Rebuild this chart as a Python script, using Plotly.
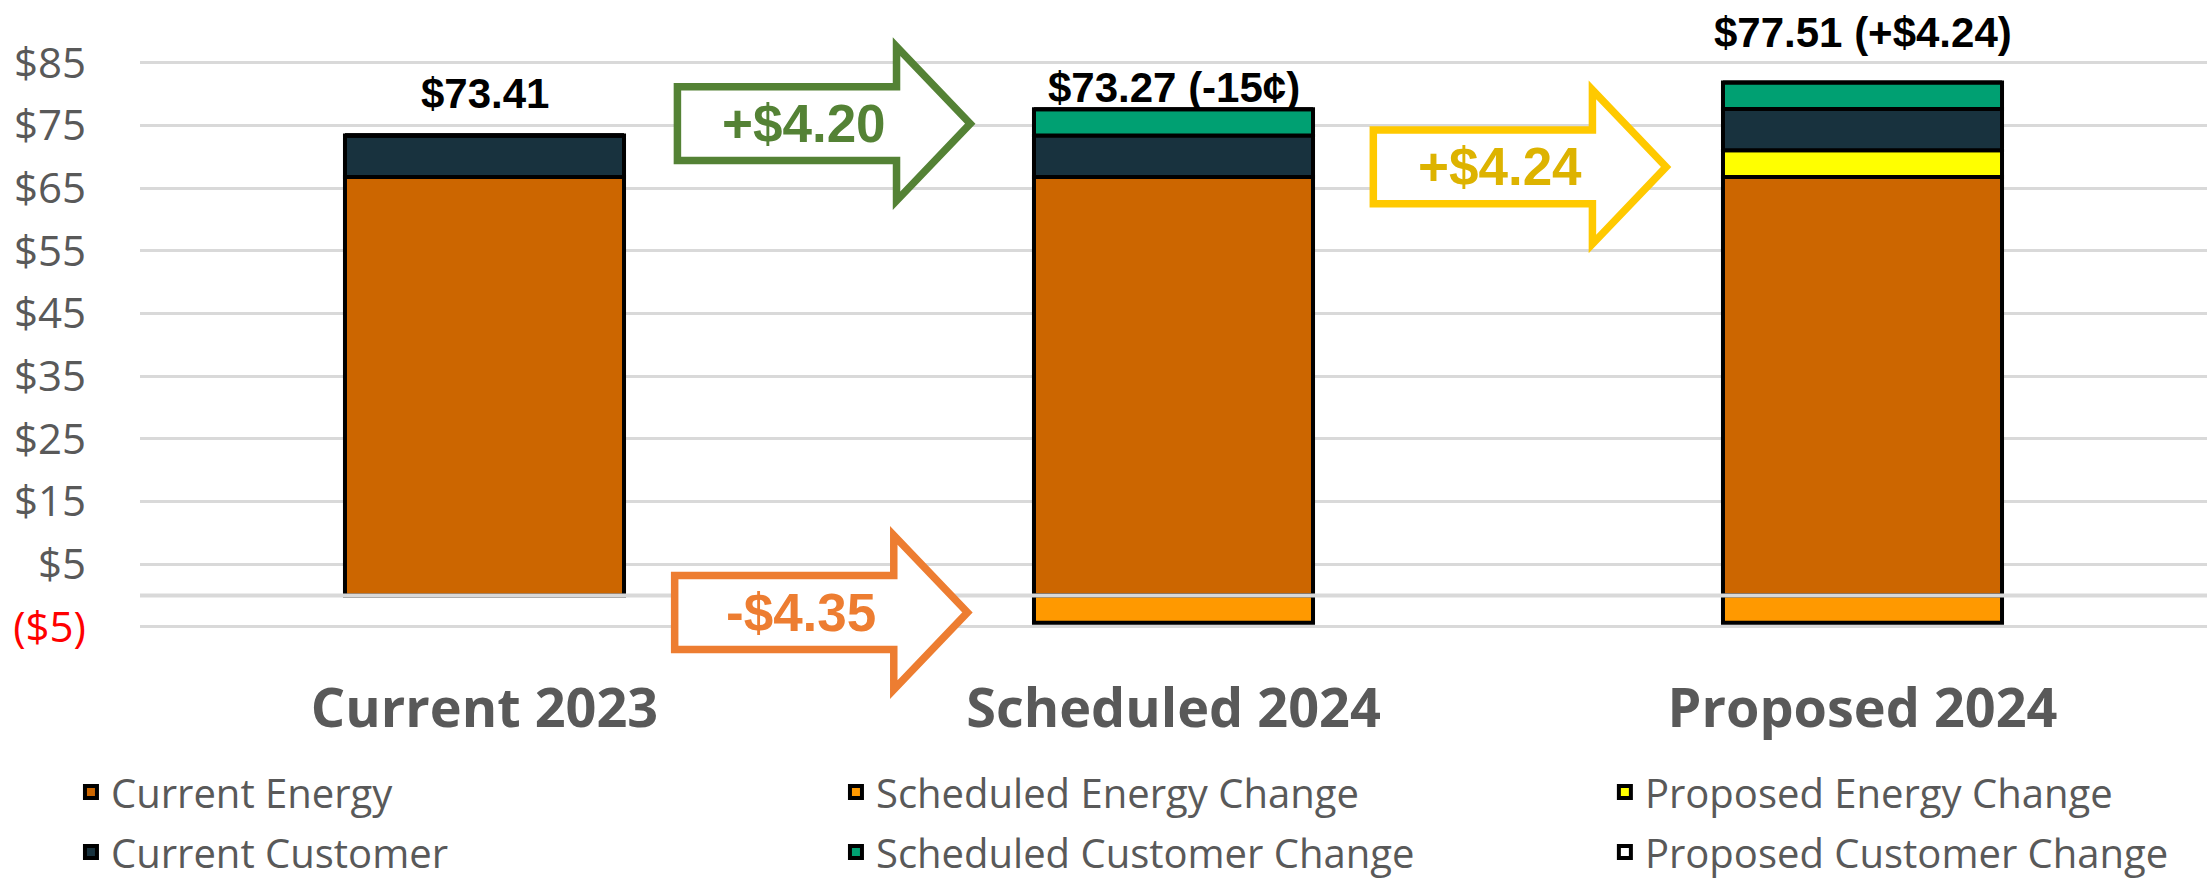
import plotly.graph_objects as go

# ---------------- data ----------------
categories = ["Current 2023", "Scheduled 2024", "Proposed 2024"]
current_energy = [66.80, 66.80, 66.80]
current_customer = [6.61, 6.61, 6.61]
scheduled_energy_change = [0, -4.35, -4.35]
scheduled_customer_change = [0, 4.20, 4.20]
proposed_energy_change = [0, 0, 4.24]
proposed_customer_change = [0, 0, 0]

total_labels = ["$73.41", "$73.27 (-15¢)", "$77.51 (+$4.24)"]
total_label_shift_px = [42, 22, 50]

y_tick_vals = [-5, 5, 15, 25, 35, 45, 55, 65, 75, 85]
y_tick_text = ["<span style='color:#FF0000'>($5)</span>", "$5", "$15", "$25", "$35",
               "$45", "$55", "$65", "$75", "$85"]

arrow_labels = ["+$4.20", "-$4.35", "+$4.24"]
arrow_x_start = [0.280, 0.276, 1.290]
arrow_y_center = [75.3, -2.7, 68.4]
arrow_line_colors = ["#548235", "#ED7D31", "#FFC900"]
arrow_text_colors = ["#548235", "#ED7D31", "#DDB300"]

# ---------------- style ----------------
x_pos = list(range(len(categories)))
X_RANGE = [-0.5, 2.5]
Y_RANGE = [-5.5, 92]
BAR_W = 0.405
LINE = dict(color="#000000", width=4)

series = [
    # name, values, color, legend, rank
    ("Current Energy", current_energy, "#CC6600", "legend", 1),
    ("Proposed Energy Change", proposed_energy_change, "#FFFF00", "legend3", 1),
    ("Current Customer", current_customer, "#18323E", "legend", 2),
    ("Scheduled Customer Change", scheduled_customer_change, "#00A072", "legend2", 2),
    ("Proposed Customer Change", proposed_customer_change, "#FFFFFF", "legend3", 2),
    ("Scheduled Energy Change", scheduled_energy_change, "#FF9900", "legend2", 1),
]

fig = go.Figure()
for name, vals, color, leg, rank in series:
    fig.add_trace(go.Bar(
        x=x_pos, y=vals, name=name, width=BAR_W,
        marker=dict(color=color, line=LINE),
        legend=leg, legendrank=rank, legendgroup=name,
    ))

# zero line drawn over the bars
fig.add_shape(type="line", xref="paper", yref="y", x0=0, x1=1, y0=0, y1=0,
              line=dict(color="#D9D9D9", width=4), layer="above")


def px_(x):  # data x -> paper
    return (x - X_RANGE[0]) / (X_RANGE[1] - X_RANGE[0])


def py_(y):  # data y -> paper
    return (y - Y_RANGE[0]) / (Y_RANGE[1] - Y_RANGE[0])


# block arrows (paper coordinates so they are not clipped by the plot area)
BODY_HALF = 5.9
HEAD_HALF = 12.3
BODY_LEN = 0.318
HEAD_LEN = 0.107
for lab, xs, yc, lc, tc in zip(arrow_labels, arrow_x_start, arrow_y_center,
                               arrow_line_colors, arrow_text_colors):
    x1 = xs + BODY_LEN
    x2 = x1 + HEAD_LEN
    pts = [(xs, yc - BODY_HALF), (x1, yc - BODY_HALF), (x1, yc - HEAD_HALF), (x2, yc),
           (x1, yc + HEAD_HALF), (x1, yc + BODY_HALF), (xs, yc + BODY_HALF)]
    path = "M" + " L".join(f"{px_(a):.5f},{py_(b):.5f}" for a, b in pts) + " Z"
    fig.add_shape(type="path", path=path, xref="paper", yref="paper",
                  line=dict(color=lc, width=7.5), fillcolor="#FFFFFF", layer="above")
    fig.add_annotation(x=px_(xs + BODY_LEN / 2 + 0.025), y=py_(yc),
                       xref="paper", yref="paper", xanchor="center", yanchor="middle",
                       text=lab, showarrow=False,
                       font=dict(family="Liberation Sans, Arial", size=53, color=tc,
                                 weight="bold"))

# total labels above stacks
pos_tops = [sum(v for v in vals if v > 0) for vals in zip(
    current_energy, current_customer, scheduled_customer_change,
    proposed_energy_change, proposed_customer_change)]
for xi, top, lab, sh in zip(x_pos, pos_tops, total_labels, total_label_shift_px):
    fig.add_annotation(x=xi, y=top, xref="x", yref="y", text=lab, showarrow=False,
                       yshift=sh, xanchor="center", yanchor="middle",
                       font=dict(family="Liberation Sans, Arial", size=42,
                                 color="#000000", weight="bold"))

legend_common = dict(orientation="v", xanchor="left", yanchor="top",
                     traceorder="grouped", tracegroupgap=5,
                     font=dict(family="Open Sans", size=40, color="#595959"),
                     bgcolor="rgba(0,0,0,0)", borderwidth=0)

LEG_Y = -0.212
fig.update_layout(
    width=2211, height=879,
    margin=dict(l=140, r=4, t=19, b=249, autoexpand=False),
    plot_bgcolor="#FFFFFF", paper_bgcolor="#FFFFFF",
    barmode="relative",
    showlegend=True,
    legend=dict(x=-0.0334, y=LEG_Y, **legend_common),
    legend2=dict(x=0.3367, y=LEG_Y, **legend_common),
    legend3=dict(x=0.7087, y=LEG_Y, **legend_common),
    xaxis=dict(
        range=X_RANGE, tickvals=x_pos, ticktext=categories,
        showgrid=False, zeroline=False, showline=False, ticks="",
        ticklabelstandoff=42, automargin=False,
        tickfont=dict(family="Open Sans", size=54, color="#595959", weight="bold"),
    ),
    yaxis=dict(
        range=Y_RANGE, tickvals=y_tick_vals, ticktext=y_tick_text,
        showgrid=True, gridcolor="#D9D9D9", gridwidth=3,
        zeroline=False, showline=False, ticks="",
        ticklabelstandoff=53, automargin=False,
        tickfont=dict(family="Open Sans", size=42, color="#595959"),
    ),
)

fig.write_html("out.html", config={"displayModeBar": False},
               post_script="document.body.style.margin='0';document.body.style.overflow='hidden';")
